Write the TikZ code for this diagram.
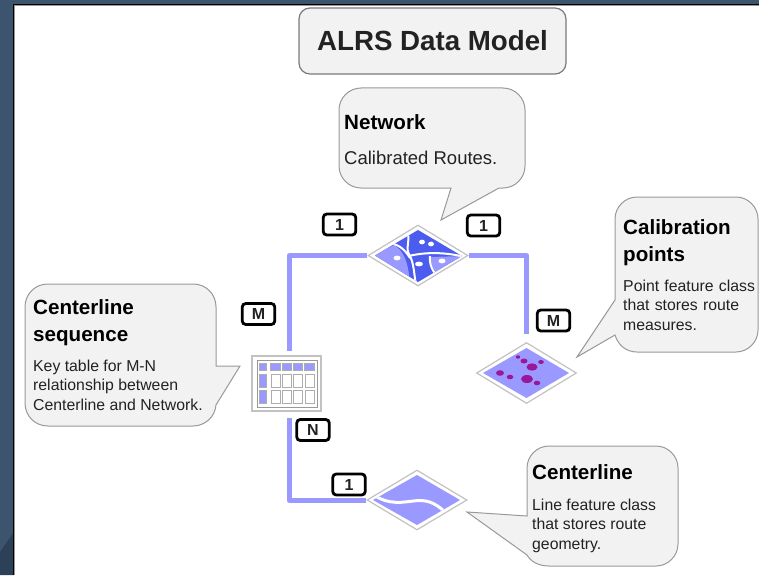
\documentclass[tikz,border=0pt]{standalone}
\usepackage{fontspec}
\setmainfont{Liberation Sans}
\usetikzlibrary{shapes.geometric}
\definecolor{bgblue}{HTML}{3D546F}
\definecolor{bgdark}{HTML}{2C4058}
\definecolor{link}{HTML}{9999FF}
\definecolor{deep}{HTML}{4B5CEE}
\definecolor{dots}{HTML}{99189A}
\definecolor{bubble}{HTML}{F2F2F2}
\definecolor{edge}{HTML}{999999}
\definecolor{ink}{HTML}{222222}
\tikzset{
  x=1pt,y=-1pt,
  bubblepath/.style={fill=bubble,draw=edge,line width=1pt,line join=miter},
  headtext/.style={anchor=north west,inner sep=0pt,align=left,text=black,font=\bfseries\fontsize{20.6}{27}\selectfont},
  bodytext/.style={anchor=north west,inner sep=0pt,align=left,text=ink,font=\fontsize{15.8}{19.2}\selectfont},
  cardtag/.style={draw=black,fill=white,line width=2.8pt,rounded corners=3.5pt,minimum width=32.5pt,minimum height=21pt,inner sep=0pt,text=ink,font=\bfseries\fontsize{16}{16}\selectfont},
  linkline/.style={draw=link,line width=5pt,line join=round},
  gem/.style={diamond,draw=edge!60,fill=white,line width=1.2pt,inner sep=0pt,minimum width=100pt,minimum height=60pt},
  cellw/.style={fill=white,draw=edge!80,line width=.7pt},
  cellb/.style={fill=link,draw=edge!80,line width=.6pt}
}
\begin{document}
\begin{tikzpicture}
\useasboundingbox (0,0) rectangle (759,575);
\fill[bgblue] (0,0) rectangle (759,575);
\fill[bgdark] (0,552) -- (14,532) -- (14,575) -- (0,575) -- cycle;
\fill[black] (13,4) rectangle (759,575);
\fill[edge] (14,5) rectangle (759,575);
\fill[white] (15,6) rectangle (759,575);

% title
\node[name=title,draw=edge!130,fill=bubble,line width=1.2pt,rounded corners=11pt,minimum width=267pt,minimum height=66pt,inner sep=0pt,text=ink,font=\bfseries\fontsize{27.7}{30}\selectfont] at (432.5,41) {ALRS Data Model};

% icons
\node[gem,minimum height=61pt] (net) at (418,255.5) {};
\node[gem,minimum height=61pt] (cal) at (526.5,373) {};
\node[gem] (cen) at (417,500) {};
\node[draw=edge!60,fill=white,line width=1.2pt,minimum width=69pt,minimum height=55pt,inner sep=0pt] (tbl) at (286.5,383.5) {};

% connectors
\draw[linkline,shorten >=4pt] (net.west) -| ([xshift=3pt]tbl.north);
\draw[linkline,shorten >=8pt] (net.east) -| (cal.north);
\draw[linkline,shorten >=6pt] (cen.west) -| ([xshift=2.5pt]tbl.south);

% network icon
\begin{scope}
\clip (375,255.5) -- (418,230) -- (462,256) -- (418,282) -- cycle;
\fill[deep] (370,225) rectangle (470,290);
\fill[link] (372,256) -- (394,245) .. controls (402,250) and (408,258) .. (410,284) -- cycle;
\fill[link] (430,257) -- (465,256) -- (465,258) -- (438,275) .. controls (432,268) and (430,262) .. (430,257) -- cycle;
\draw[white,line width=2pt] (406,228) .. controls (412,240) and (404,248) .. (410,256) .. controls (414,264) and (414,274) .. (416,285);
\draw[white,line width=2pt] (390,243) .. controls (400,245) and (405,250) .. (410,258);
\draw[white,line width=2pt] (409,256) .. controls (425,252) and (445,252) .. (465,257);
\draw[white,line width=2pt] (430,256) .. controls (429,265) and (433,272) .. (439,278);
\end{scope}
\foreach \px/\py/\rx in {397/258/3.5,422/242/3,431/244/3,419/264/4,442/261/3.5}
  \fill[white] (\px,\py) ellipse [x radius=\rx pt,y radius=2.4pt];

% calibration points icon
\fill[link] (483,373) -- (526.5,348) -- (569,373) -- (526.5,398) -- cycle;
\foreach \px/\py/\rx/\ry in {518/357/2.2/1.7,524/361/3.5/2.5,532/367/5.5/3.7,541/362/2.8/2,500/373/4/2.8,510/377/3.3/2.3,527/379/6/4,537/383/3.3/2.3}
  \fill[dots] (\px,\py) ellipse [x radius=\rx pt,y radius=\ry pt];

% centerline icon
\begin{scope}
\clip (373,500) -- (417,475) -- (460,500) -- (417,525) -- cycle;
\fill[link] (370,470) rectangle (465,530);
\draw[white,line width=3pt] (372,494) .. controls (390,506) and (402,502) .. (418,500.5) .. controls (430,500) and (438,505) .. (447,514);
\end{scope}

% table icon
\draw[edge,line width=.9pt,fill=white] (257.5,360) rectangle (317.5,407);
\foreach \cx in {0,1,2,3} {
  \draw[cellb] (270.5+\cx*11.3,363) rectangle +(9.5,7);
  \draw[cellw] (271+\cx*11.3,374) rectangle +(9,13.5);
  \draw[cellw] (271+\cx*11.3,390) rectangle +(9,13.5);
}
\draw[cellb] (259.5,363) rectangle (266,370);
\draw[cellb] (259.5,374) rectangle (266,387.5);
\draw[cellb] (259.5,390) rectangle (266,403.5);

% callouts
\draw[bubblepath] (339,110) .. controls (339,98) and (349,88) .. (361,88) -- (503,88) .. controls (515,88) and (525,98) .. (525,110) -- (525,166) .. controls (525,178) and (515,188) .. (503,188) -- (499,188) -- (441,220) -- (451,188) -- (361,188) .. controls (349,188) and (339,178) .. (339,166) -- cycle;
\draw[bubblepath] (615,219) .. controls (615,207) and (625,197) .. (637,197) -- (736,197) .. controls (748,197) and (758,207) .. (758,219) -- (758,330) .. controls (758,342) and (748,352) .. (736,352) -- (637,352) .. controls (626,352) and (618,345) .. (615,335) -- (577,357) -- (615,300) -- cycle;
\draw[bubblepath] (25,307) .. controls (25,294) and (35,284) .. (48,284) -- (193,284) .. controls (206,284) and (216,294) .. (216,307) -- (216,366) -- (240,366) -- (216,405) .. controls (215,417) and (205,426) .. (193,426) -- (48,426) .. controls (35,426) and (25,416) .. (25,403) -- cycle;
\draw[bubblepath] (527,468) .. controls (527,456) and (537,446) .. (549,446) -- (656,446) .. controls (668,446) and (678,456) .. (678,468) -- (678,544) .. controls (678,556) and (668,566) .. (656,566) -- (549,566) .. controls (539,566) and (531,562) .. (527,555) -- (467,512) -- (527,516) -- cycle;

% callout texts
\node[headtext] (nethead) at (344,114) {Network};
\node[bodytext,font=\fontsize{18.5}{20}\selectfont] (netbody) at (344,151) {Calibrated Routes.};
\node[headtext] (calhead) at (623,219) {Calibration\\points};
\node[bodytext,text width=136pt] (calbody) at (623,280) {Point feature class\\that stores route\\measures.};
\node[headtext] (seqhead) at (33,299) {Centerline\\sequence};
\node[bodytext] (seqbody) at (33,360) {Key table for M-N\\relationship between\\Centerline and Network.};
\node[headtext] (cenhead) at (532,464) {Centerline};
\node[bodytext] (cenbody) at (532,499) {Line feature class\\that stores route\\geometry.};

% cardinality tags
\node[cardtag] (t1) at (339.5,224.5) {1};
\node[cardtag] (t2) at (483.5,225.5) {1};
\node[cardtag] (t3) at (258.5,314) {M};
\node[cardtag] (t4) at (553.5,320.5) {M};
\node[cardtag] (t5) at (313,430) {N};
\node[cardtag] (t6) at (349,484.5) {1};
\end{tikzpicture}
\end{document}
